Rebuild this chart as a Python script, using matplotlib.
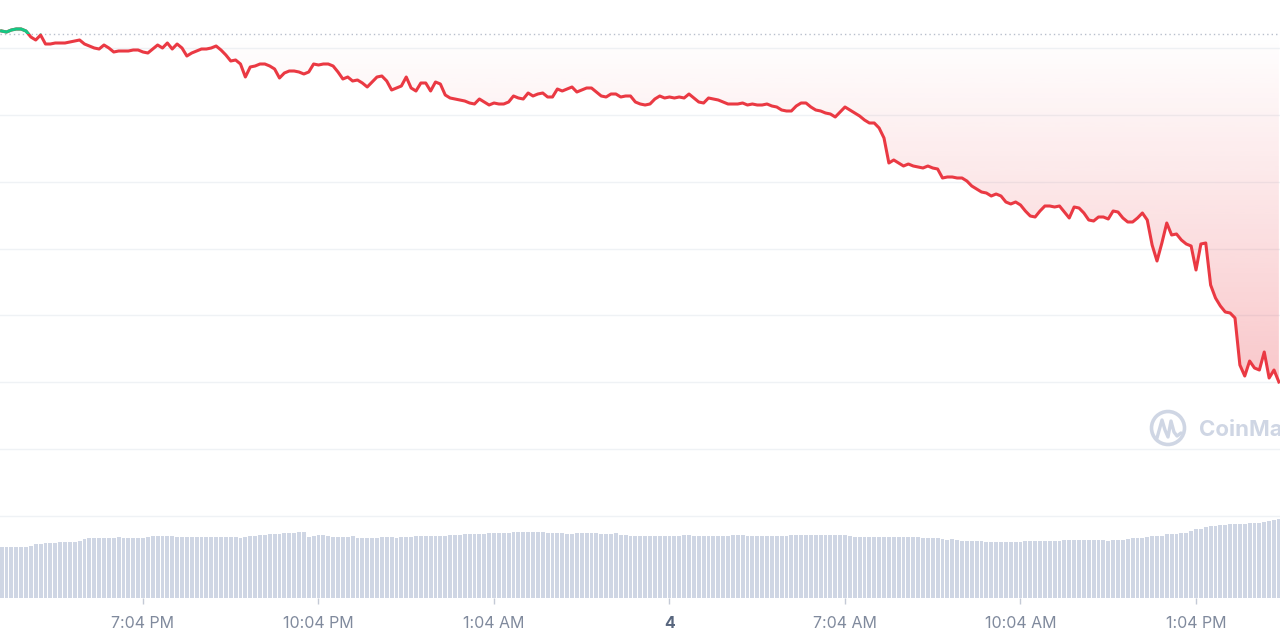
import numpy as np
import pandas as pd
import matplotlib
matplotlib.use("Agg")
import matplotlib.pyplot as plt
import matplotlib.dates as mdates
from matplotlib.colors import to_rgb
from matplotlib.path import Path
from matplotlib.patches import Circle, Rectangle

plt.rcParams['font.family'] = ['Inter', 'DejaVu Sans']

# 5-minute candles, price (USD) and volume (M)
start = "2024-01-03 16:39"
price = [
    25.67, 25.66, 25.68, 25.69, 25.69, 25.67, 25.61, 25.58, 25.63, 25.54,
    25.54, 25.55, 25.55, 25.55, 25.56, 25.57, 25.58, 25.54, 25.52, 25.50,
    25.49, 25.53, 25.50, 25.46, 25.47, 25.47, 25.47, 25.48, 25.48, 25.46,
    25.45, 25.49, 25.53, 25.50, 25.55, 25.49, 25.54, 25.50, 25.42, 25.45,
    25.47, 25.49, 25.49, 25.50, 25.52, 25.48, 25.43, 25.37, 25.38, 25.34,
    25.21, 25.31, 25.32, 25.34, 25.34, 25.32, 25.29, 25.20, 25.25, 25.27,
    25.27, 25.26, 25.24, 25.26, 25.34, 25.33, 25.34, 25.34, 25.32, 25.26,
    25.19, 25.21, 25.17, 25.18, 25.15, 25.11, 25.16, 25.21, 25.22, 25.17,
    25.08, 25.10, 25.12, 25.21, 25.10, 25.07, 25.15, 25.15, 25.07, 25.16,
    25.14, 25.03, 25.00, 24.99, 24.98, 24.97, 24.95, 24.94, 24.99, 24.96,
    24.93, 24.95, 24.94, 24.94, 24.96, 25.02, 25.00, 24.99, 25.05, 25.02,
    25.04, 25.05, 25.01, 25.01, 25.09, 25.07, 25.09, 25.11, 25.06, 25.08,
    25.10, 25.10, 25.06, 25.02, 25.01, 25.04, 25.04, 25.01, 25.02, 25.02,
    24.96, 24.94, 24.93, 24.94, 24.99, 25.02, 25.00, 25.01, 25.00, 25.01,
    25.00, 25.04, 25.00, 24.96, 24.95, 25.00, 24.99, 24.98, 24.96, 24.94,
    24.94, 24.94, 24.95, 24.93, 24.94, 24.93, 24.93, 24.94, 24.92, 24.91,
    24.88, 24.87, 24.87, 24.92, 24.95, 24.95, 24.91, 24.88, 24.87, 24.85,
    24.84, 24.81, 24.86, 24.91, 24.88, 24.85, 24.82, 24.78, 24.75, 24.75,
    24.70, 24.60, 24.35, 24.38, 24.35, 24.32, 24.34, 24.32, 24.31, 24.30,
    24.32, 24.30, 24.29, 24.20, 24.21, 24.21, 24.20, 24.20, 24.17, 24.12,
    24.09, 24.06, 24.05, 24.02, 24.04, 24.02, 23.96, 23.94, 23.96, 23.93,
    23.87, 23.82, 23.81, 23.87, 23.92, 23.92, 23.91, 23.92, 23.86, 23.80,
    23.91, 23.90, 23.85, 23.78, 23.77, 23.81, 23.81, 23.79, 23.87, 23.86,
    23.80, 23.76, 23.76, 23.80, 23.85, 23.78, 23.53, 23.37, 23.55, 23.75,
    23.63, 23.64, 23.58, 23.54, 23.52, 23.28, 23.54, 23.55, 23.13, 23.00,
    22.92, 22.86, 22.85, 22.80, 22.33, 22.22, 22.37, 22.30, 22.28, 22.46,
    22.20, 22.28, 22.16,
]
volume = [
    50.7, 50.7, 50.7, 50.7, 50.7, 50.7, 52.3, 54.0, 54.0, 55.0,
    55.0, 55.0, 56.0, 56.0, 56.0, 56.0, 57.0, 58.7, 60.3, 60.3,
    60.3, 60.3, 60.3, 60.3, 61.0, 60.3, 60.3, 60.3, 60.3, 60.3,
    61.3, 62.0, 62.0, 62.0, 62.0, 62.0, 61.0, 61.0, 61.0, 61.0,
    61.0, 61.0, 61.0, 61.0, 61.0, 61.0, 61.0, 61.0, 61.0, 60.0,
    61.3, 62.0, 62.0, 63.0, 63.0, 63.7, 63.7, 63.7, 64.7, 64.7,
    64.7, 65.7, 65.7, 61.3, 62.3, 63.0, 63.0, 62.0, 61.0, 61.0,
    61.0, 61.0, 62.0, 60.3, 60.3, 60.3, 60.3, 60.3, 61.0, 61.0,
    61.0, 60.0, 61.0, 61.0, 61.0, 62.0, 62.0, 62.0, 62.0, 62.0,
    62.0, 62.0, 63.0, 63.0, 63.0, 64.0, 64.0, 64.0, 64.0, 64.0,
    64.7, 64.7, 64.7, 64.7, 64.7, 65.7, 65.7, 65.7, 65.7, 65.7,
    65.7, 65.7, 64.7, 64.7, 64.7, 64.7, 64.0, 64.0, 64.7, 64.7,
    64.7, 64.7, 64.7, 64.0, 64.0, 64.0, 64.7, 63.0, 63.0, 62.0,
    62.0, 62.0, 62.0, 62.0, 62.0, 62.0, 62.0, 62.0, 62.0, 62.0,
    63.0, 63.0, 62.0, 62.0, 62.0, 62.0, 62.0, 62.0, 62.0, 62.0,
    63.0, 63.0, 63.0, 62.0, 62.0, 62.0, 62.0, 62.0, 62.0, 62.0,
    62.0, 62.0, 63.0, 63.0, 63.0, 63.0, 63.0, 63.0, 63.0, 63.0,
    63.0, 63.0, 63.0, 63.0, 62.0, 61.0, 61.0, 61.0, 61.0, 61.0,
    61.0, 61.0, 61.0, 61.0, 61.0, 61.0, 61.0, 61.0, 61.0, 60.3,
    60.3, 60.3, 60.3, 59.0, 58.3, 59.3, 58.3, 57.3, 57.3, 57.3,
    57.3, 57.3, 55.7, 55.7, 55.7, 55.7, 55.7, 55.7, 55.7, 55.7,
    56.7, 56.7, 57.3, 57.3, 57.3, 57.3, 57.3, 57.3, 58.3, 58.3,
    58.3, 58.3, 58.3, 58.3, 58.3, 58.3, 58.3, 57.3, 58.3, 57.7,
    58.3, 59.3, 60.3, 60.3, 60.3, 61.0, 62.0, 62.0, 62.0, 63.7,
    63.7, 63.7, 65.3, 65.3, 67.0, 68.7, 68.7, 70.7, 72.3, 72.3,
    73.3, 73.3, 74.3, 74.3, 74.3, 74.3, 75.0, 75.0, 75.0, 75.7,
    76.7, 77.7, 79.3,
]
open_price = 25.64
grid_levels = [20.82, 21.49, 22.16, 22.83, 23.49, 24.16, 24.83, 25.50]
tick_times = ["2024-01-03 19:04", "2024-01-03 22:04", "2024-01-04 01:04",
              "2024-01-04 04:04", "2024-01-04 07:04", "2024-01-04 10:04",
              "2024-01-04 13:04"]
tick_labels = ["7:04 PM", "10:04 PM", "1:04 AM", "4", "7:04 AM", "10:04 AM", "1:04 PM"]

RED = "#ea3943"
GREEN = "#16c784"
VOL = "#cfd6e4"
GRID = "#eff2f5"
TXT = "#808a9d"

times = pd.date_range(start, periods=len(price), freq="5min")
x = mdates.date2num(times)
y = np.array(price)
step = x[1] - x[0]

fig = plt.figure(figsize=(12.8, 6.4), dpi=100)
ax = fig.add_axes([0, 42 / 640, 1, 598 / 640])

for g in grid_levels:
    ax.axhline(g, color=GRID, lw=1, zorder=0)
ax.axhline(open_price, color="#b8bfcc", lw=1, ls=(0, (1, 2.2)), zorder=1)

# gradient fill below the open price (red) and above it (green)
def gradient_fill(lo, hi, color, a_lo, a_hi, edge):
    grad = np.zeros((256, 1, 4))
    grad[..., :3] = to_rgb(color)
    grad[:, 0, 3] = np.linspace(a_lo, a_hi, 256)
    im = ax.imshow(grad, extent=[x[0], x[-1], lo, hi], origin="lower",
                   aspect="auto", zorder=2, interpolation="bilinear")
    verts = list(zip(x, edge)) + [(x[-1], open_price), (x[0], open_price), (x[0], edge[0])]
    im.set_clip_path(Path(verts, closed=True), transform=ax.transData)

gradient_fill(y.min(), open_price, RED, 0.28, 0.0, np.minimum(y, open_price))
gradient_fill(open_price, y.max() + 0.01, GREEN, 0.0, 0.15, np.maximum(y, open_price))

ax.plot(x, y, color=RED, lw=2.2, zorder=4, solid_joinstyle="round")
gline, = ax.plot(x, y, color=GREEN, lw=2.2, zorder=5, solid_joinstyle="round")
gline.set_clip_path(Rectangle((x[0] - 1, open_price), 10, 10, transform=ax.transData))

ax.set_xlim(x[0] - 0.33 * step, x[-1] + 0.23 * step)
ax.set_ylim(20.0, 25.98)

for s in ax.spines.values():
    s.set_visible(False)
ax.set_yticks([])
ax.set_xticks(mdates.date2num(pd.to_datetime(tick_times)))
ax.set_xticklabels(tick_labels)
ax.tick_params(axis="x", length=4, width=1, color="#c4cad6", labelcolor=TXT,
               labelsize=11.5, pad=9)
lbl = ax.get_xticklabels()[3]
lbl.set_fontweight("bold")
lbl.set_color("#58667e")

# volume
ax2 = ax.twinx()
ax2.bar(x, volume, width=step * 0.8, color=VOL, zorder=1)
ax2.set_ylim(0, 598)
ax2.axis("off")

# watermark
ov = fig.add_axes([0, 0, 1, 1])
ov.set_xlim(0, 1280)
ov.set_ylim(640, 0)
ov.axis("off")
ov.patch.set_alpha(0)
ov.add_patch(Circle((1168, 428), 16.5, fill=False, lw=2.6, ec=VOL))
ov.plot([1157, 1162, 1165, 1168, 1171, 1174, 1177, 1181],
        [438, 420, 430, 437, 421, 432, 436, 433],
        color=VOL, lw=2.4, solid_capstyle="round", solid_joinstyle="round")
ov.text(1199, 429, "CoinMarketCap", fontsize=16, color=VOL, fontweight="bold",
        va="center", ha="left")

fig.savefig("out.png", dpi=100, facecolor="white")
